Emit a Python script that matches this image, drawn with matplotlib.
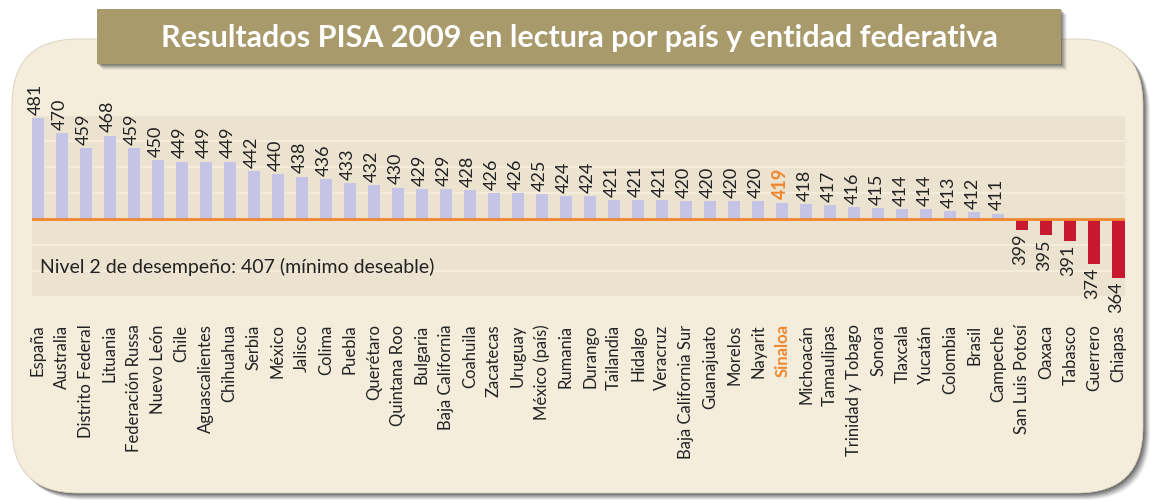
import matplotlib
matplotlib.use("Agg")
import matplotlib.pyplot as plt
from matplotlib.patches import FancyBboxPatch, Rectangle
from matplotlib.transforms import IdentityTransform

# ---------------- data ----------------
categories = ["España", "Australia", "Distrito Federal", "Lituania", "Federación Russa",
              "Nuevo León", "Chile", "Aguascalientes", "Chihuahua", "Serbia", "México",
              "Jalisco", "Colima", "Puebla", "Querétaro", "Quintana Roo", "Bulgaria",
              "Baja California", "Coahuila", "Zacatecas", "Uruguay", "México (país)",
              "Rumania", "Durango", "Tailandia", "Hidalgo", "Veracruz",
              "Baja California Sur", "Guanajuato", "Morelos", "Nayarit", "Sinaloa",
              "Michoacán", "Tamaulipas", "Trinidad y Tobago", "Sonora", "Tlaxcala",
              "Yucatán", "Colombia", "Brasil", "Campeche", "San Luis Potosí", "Oaxaca",
              "Tabasco", "Guerrero", "Chiapas"]
scores = [481, 470, 459, 468, 459, 450, 449, 449, 449, 442, 440, 438, 436, 433, 432,
          430, 429, 429, 428, 426, 426, 425, 424, 424, 421, 421, 421, 420, 420, 420,
          420, 419, 418, 417, 416, 415, 414, 414, 413, 412, 411, 399, 395, 391, 374, 364]
threshold = 407
highlight = "Sinaloa"
title = "Resultados PISA 2009 en lectura por país y entidad federativa"
note = "Nivel 2 de desempeño: 407 (mínimo deseable)"

# ---------------- style ----------------
W, H = 1150, 502
FONT = ["Lato", "DejaVu Sans"]
plt.rcParams["font.family"] = FONT
cream = "#f4eddc"
band = "#ebe2cf"
lav = "#c6c4e6"
red = "#c8182f"
orange = "#f0862e"
txt = "#222222"

fig = plt.figure(figsize=(W / 100, H / 100), dpi=100)
fig.patch.set_facecolor("white")
ident = IdentityTransform()

# frame shadow + frame (pixel coords, origin bottom-left)
fx, fy, fw, fh = 12, 8, 1131, 454
for i, a in zip(range(7, 0, -1), [0.07, 0.10, 0.13, 0.16, 0.19, 0.22, 0.26]):
    fig.patches.append(FancyBboxPatch((fx + i, fy - i), fw, fh,
                                      boxstyle="round,pad=0,rounding_size=66",
                                      transform=ident, facecolor="#303030",
                                      edgecolor="none", alpha=a, zorder=0))
fig.patches.append(FancyBboxPatch((fx, fy), fw, fh,
                                  boxstyle="round,pad=0,rounding_size=66",
                                  transform=ident, facecolor=cream,
                                  edgecolor="#d8d0bc", linewidth=0.6, zorder=1))

# title banner + shadow
bx, by, bw, bh = 97, 437, 964, 55
for i, a in zip(range(6, 0, -1), [0.06, 0.09, 0.12, 0.15, 0.18, 0.22]):
    fig.patches.append(Rectangle((bx + i, by - i), bw, bh, transform=ident,
                                 facecolor="#303030", edgecolor="none", alpha=a, zorder=2))
fig.patches.append(Rectangle((bx, by), bw, bh, transform=ident,
                             facecolor="#a99a6c", edgecolor="none", zorder=3))
fig.text((bx + bw / 2) / W, (by + bh / 2 - 1) / H, title, color="white",
         fontsize=22, fontweight="bold", ha="center", va="center", zorder=4)

# ---------------- axes ----------------
ax_left, ax_right = 31.5, 1124.5
ax_top, ax_bottom = 116, 298  # from top
ax = fig.add_axes([ax_left / W, (H - ax_bottom) / H, (ax_right - ax_left) / W,
                   (ax_bottom - ax_top) / H])
ax.set_zorder(10)
ax.set_facecolor("none")
n = len(categories)
ax.set_xlim(-0.25, n - 0.75)
step = 19
edges = [threshold + k * step for k in range(-3, 5)]
ax.set_ylim(edges[0], edges[-1])

for lo, hi in zip(edges[:-1], edges[1:]):
    ax.axhspan(lo + 0.75, hi - 0.75, color=band, lw=0, zorder=0)

xs = list(range(n))
heights = [s - threshold for s in scores]
colors = [lav if s >= threshold else red for s in scores]
ax.bar(xs, heights, bottom=threshold, width=0.5, color=colors, zorder=2)
ax.axhline(threshold, color=orange, lw=2, zorder=3)

for x, s, c in zip(xs, scores, categories):
    hl = c == highlight
    kw = dict(rotation=90, ha="center", fontsize=13, annotation_clip=False,
              textcoords="offset points",
              color=orange if hl else txt, fontweight="bold" if hl else "normal")
    if s >= threshold:
        ax.annotate(str(s), (x - 0.08, s), xytext=(0, 3), va="bottom", **kw)
    else:
        ax.annotate(str(s), (x - 0.08, s), xytext=(0, -2), va="top", **kw)

ax.set_xticks(xs)
ax.set_xticklabels(categories, rotation=90, fontsize=12, color=txt)
for lab in ax.get_xticklabels():
    if lab.get_text() == highlight:
        lab.set_color(orange)
        lab.set_fontweight("bold")
ax.tick_params(axis="x", length=0, pad=19)
ax.set_yticks([])
for sp in ax.spines.values():
    sp.set_visible(False)

ax.text(40 / W, (H - 267) / H, note, transform=fig.transFigure, fontsize=14,
        color=txt, ha="left", va="center", zorder=4)

fig.savefig("out.png", dpi=100, facecolor="white")
